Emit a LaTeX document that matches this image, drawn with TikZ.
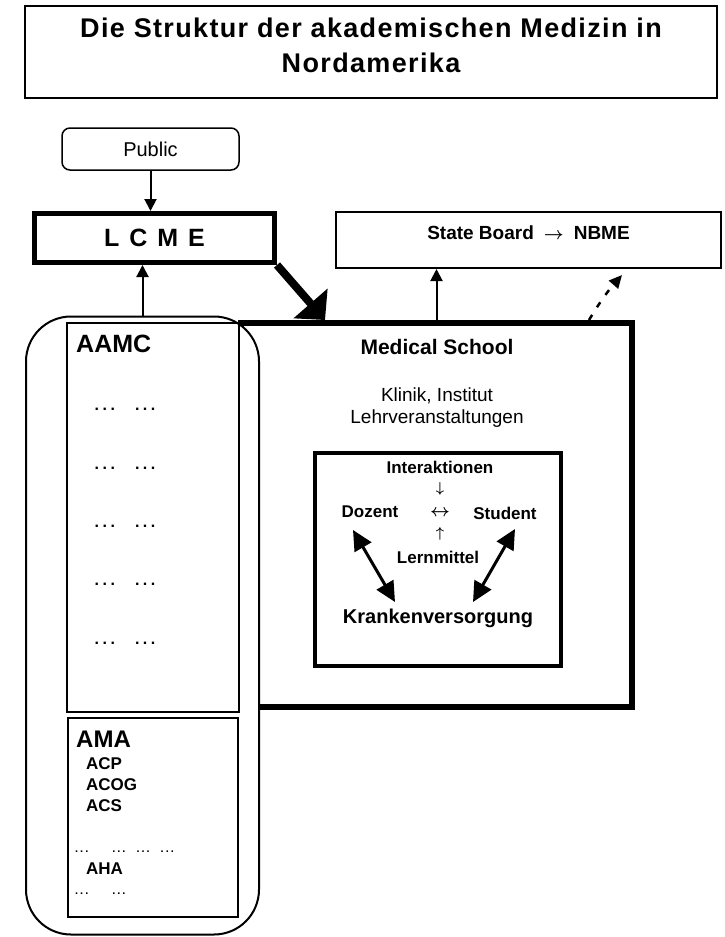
\documentclass[tikz,border=0pt]{standalone}
\usepackage{fontspec}
\setmainfont{Liberation Sans}
\usetikzlibrary{arrows.meta}
\newcommand{\dts}{.\kern3.5pt.\kern3.5pt.}
\newcommand{\sdts}{.\kern2pt.\kern2pt.}

\begin{document}
\begin{tikzpicture}[x=1pt,y=-1pt,
    box/.style={draw,rectangle,inner sep=0pt},
    txt/.style={inner sep=0pt,font=\bfseries\fontsize{17}{20}\selectfont},
    item/.style={anchor=west,inner sep=0pt,font=\bfseries\fontsize{17}{20}\selectfont},
    sym/.style={inner sep=0pt,font=\boldmath\fontsize{14}{16}\selectfont},
    pfeil/.style={-{Triangle[length=12pt,width=12pt]},line width=2pt},
    dick/.style={{Triangle[length=20pt,width=19pt]}-{Triangle[length=20pt,width=19pt]},line width=3pt}]
    \useasboundingbox (0,0) rectangle (725,937);

    \node[box,line width=2pt,minimum width=692pt,minimum height=92pt] (titel) at (371,52) {};
    \node[align=center,inner sep=0pt,yshift=7pt,
          font=\bfseries\fontsize{27}{35}\selectfont\addfontfeatures{LetterSpace=5}] (titeltext) at (titel.center)
          {Die Struktur der akademischen Medizin in\\Nordamerika};
    \node[box,line width=1.5pt,rounded corners=8pt,minimum width=177pt,minimum height=42pt,
          font=\fontsize{20}{24}\selectfont] (public) at (150.5,149) {Public};
    \node[box,line width=5pt,minimum width=240pt,minimum height=49pt,
          font=\bfseries\fontsize{25}{30}\selectfont] (lcme) at (154.5,238)
          {L\hspace{10pt}C\hspace{10pt}M\hspace{10pt}E};
    \node[box,line width=2pt,minimum width=385pt,minimum height=56pt,text height=13pt,text depth=14pt,
          font=\boldmath\bfseries\fontsize{19}{22}\selectfont] (board) at (528.5,240)
          {State Board\hspace{10pt}$\rightarrow$\hspace{10pt}NBME};

    \node[box,line width=6pt,minimum width=391pt,minimum height=384pt] (school) at (436.5,515) {};
    \node[txt,font=\bfseries\fontsize{21}{25}\selectfont] (schoolname) at (437,347) {Medical School};
    \node[txt,align=center,font=\fontsize{19}{22}\selectfont] (klinik) at (437,408)
          {Klinik, Institut\\Lehrveranstaltungen};

    \draw[pfeil] (public.south) -- (public.south |- lcme.north);
    \draw[pfeil] (school.north) -- (school.north |- board.south);
    \draw[line width=8pt,-{Triangle[length=22pt,width=44pt]}] (lcme.south east) -- ([xshift=87pt]school.north west);
    \draw[line width=2.5pt,dash pattern=on 6pt off 9pt,-{Triangle[length=13pt,width=12pt]}]
          ([xshift=351pt]school.north west) to[bend left=5] ([xshift=287pt,yshift=-6pt]board.south west);

    \node[box,line width=2pt,rounded corners=45pt,fill=white,minimum width=233pt,minimum height=618pt] (verbaende) at (142.5,625.5) {};
    \draw[pfeil] (verbaende.north) -- (verbaende.north |- lcme.south);
    \node[box,line width=1.2pt,minimum width=172pt,minimum height=389pt] (aamc) at (153,517.5) {};
    \node[box,line width=1.2pt,minimum width=170pt,minimum height=199pt] (ama) at (153,817.5) {};

    \node[item,font=\bfseries\fontsize{25}{30}\selectfont] (aamcname) at (76,344) {AAMC};
    \foreach \y in {409,468,526,584,643}
        \node[inner sep=0pt,font=\bfseries\fontsize{16}{18}\selectfont] at (125,\y) {\dts\hspace{20pt}\dts};

    \node[item,font=\bfseries\fontsize{24}{28}\selectfont] (amaname) at (76,739) {AMA};
    \foreach \t/\y in {ACP/764,ACOG/785,ACS/806,AHA/869}
        \node[item] (\t) at (86,\y) {\t};
    \node[item,font=\bfseries\fontsize{11}{13}\selectfont] (punkte1) at (75,852)
          {\sdts\hspace{24pt}\sdts\hspace{11pt}\sdts\hspace{11pt}\sdts};
    \node[item,font=\bfseries\fontsize{11}{13}\selectfont] (punkte2) at (75,894)
          {\sdts\hspace{24pt}\sdts};

    \node[box,line width=4pt,minimum width=246pt,minimum height=213pt] (lehre) at (438,559.5) {};
    \node[txt] (interaktion) at (440,467) {Interaktionen};
    \node[sym] (runter) at (440,489) {$\downarrow$};
    \node[txt] (dozent) at (370,512) {Dozent};
    \node[sym,font=\boldmath\fontsize{16}{18}\selectfont] (wechsel) at (440,513) {$\leftrightarrow$};
    \node[txt] (student) at (505,513) {Student};
    \node[sym] (hoch) at (440,534) {$\uparrow$};
    \node[txt] (lernmittel) at (438,557) {Lernmittel};
    \node[txt,font=\bfseries\fontsize{20}{24}\selectfont] (kranken) at (438,618) {Krankenversorgung};

    \draw[dick] ([xshift=-17pt,yshift=-18pt]dozent.center) -- ([xshift=-43pt,yshift=16pt]kranken.center);
    \draw[dick] ([xshift=10pt,yshift=-16pt]student.center) -- ([xshift=35pt,yshift=16pt]kranken.center);
\end{tikzpicture}
\end{document}
